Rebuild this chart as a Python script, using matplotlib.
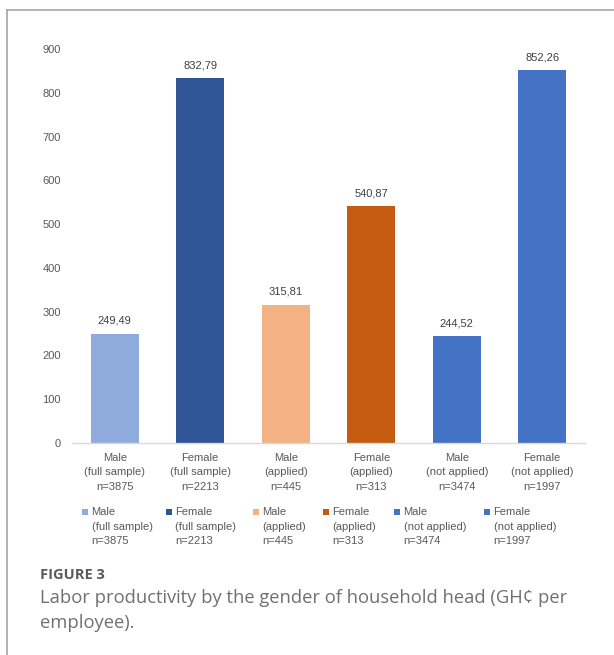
import matplotlib
matplotlib.use("Agg")
import matplotlib.pyplot as plt
from matplotlib.lines import Line2D
from matplotlib.patches import Rectangle

categories = ["Male\n(full sample)\nn=3875", "Female\n(full sample)\nn=2213",
              "Male\n(applied)\nn=445", "Female\n(applied)\nn=313",
              "Male\n(not applied)\nn=3474", "Female\n(not applied)\nn=1997"]
values = [249.49, 832.79, 315.81, 540.87, 244.52, 852.26]
colors = ["#8FAADC", "#2F5597", "#F4B183", "#C55A11", "#4472C4", "#4472C4"]
yticks = [0, 100, 200, 300, 400, 500, 600, 700, 800, 900]

W, H = 614, 655
plt.rcParams['font.family'] = ['Liberation Sans', 'DejaVu Sans']
fig = plt.figure(figsize=(W / 100, H / 100), dpi=100)
ax = fig.add_axes([72 / W, 1 - 443 / H, (585 - 72) / W, (443 - 49) / H])

x = list(range(len(values)))
ax.bar(x, values, width=0.565, color=colors)
for xi, v in zip(x, values):
    ax.text(xi, v + 18, f"{v:.2f}".replace(".", ","), ha="center", va="bottom",
            fontsize=8, color="#404040")

ax.set_ylim(0, 900)
ax.set_xlim(-0.5, 5.5)
ax.set_yticks(yticks)
ax.set_yticklabels([str(t) for t in yticks], fontsize=8, color="#595959")
ax.set_xticks(x)
ax.set_xticklabels(categories, fontsize=8, color="#595959", linespacing=1.57)
ax.tick_params(axis="x", length=0, pad=7)
ax.tick_params(axis="y", length=0, pad=8)
for s in ["top", "right", "left"]:
    ax.spines[s].set_visible(False)
ax.spines["bottom"].set_color("#D9D9D9")
ax.spines["bottom"].set_linewidth(1.0)

# legend (entries positioned like the original's wrapped legend)
leg_x = [82, 165.5, 253, 323, 394, 484]
leg_y = 512
for lx, c, lab in zip(leg_x, colors, categories):
    fig.add_artist(Rectangle(((lx) / W, 1 - (leg_y + 3) / H), 6 / W, 6 / H,
                             facecolor=c, edgecolor="none", transform=fig.transFigure))
    fig.text((lx + 9.5) / W, 1 - (leg_y + 14.5) / H, lab, fontsize=8, color="#595959",
             ha="left", va="center", linespacing=1.53)

# frame lines
fig.add_artist(Line2D([7 / W, 1.0], [1 - 10 / H, 1 - 10 / H], color="#A6A6A6", lw=1.2,
                      transform=fig.transFigure))
fig.add_artist(Line2D([7 / W, 7 / W], [1 - 10 / H, 0.0], color="#A6A6A6", lw=1.2,
                      transform=fig.transFigure))

cap_font = ["Open Sans", "DejaVu Sans"]
fig.text(40 / W, 1 - 575 / H, "FIGURE 3", fontsize=10.5, fontweight="bold",
         color="#5a5a5a", family=cap_font, va="center")
fig.text(40 / W, 1 - 598 / H, "Labor productivity by the gender of household head (GH\u00a2 per",
         fontsize=13.2, color="#707070", family=cap_font, va="center")
fig.text(40 / W, 1 - 623 / H, "employee).", fontsize=13.2, color="#707070",
         family=cap_font, va="center")

fig.savefig("out.png", dpi=100, facecolor="white")
